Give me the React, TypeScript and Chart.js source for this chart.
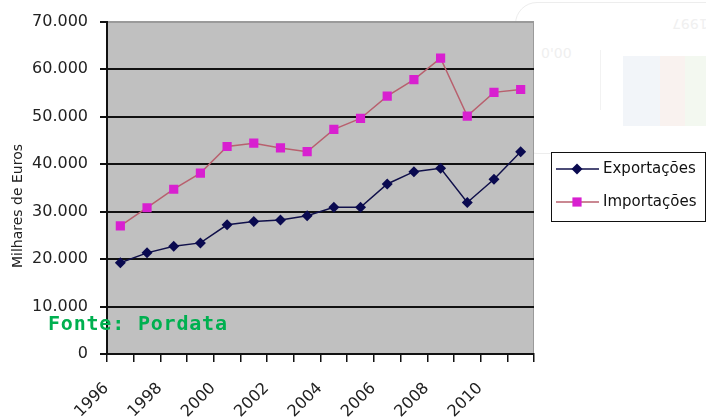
import React, { useEffect, useRef } from 'react';
import { Chart, registerables } from 'chart.js';

Chart.register(...registerables);

const years = ['1996', '1997', '1998', '1999', '2000', '2001', '2002', '2003', '2004', '2005', '2006', '2007', '2008', '2009', '2010', '2011'];
const exportacoes = [19200, 21300, 22700, 23400, 27200, 27900, 28200, 29100, 30900, 30900, 35800, 38400, 39100, 31900, 36800, 42600];
const importacoes = [27000, 30800, 34700, 38100, 43700, 44400, 43400, 42600, 47300, 49600, 54300, 57800, 62300, 50100, 55100, 55700];
const yTicks = [0, 10000, 20000, 30000, 40000, 50000, 60000, 70000];
const yTitle = 'Milhares de Euros';
const source = 'Fonte: Pordata';

const fmt = (v: number) => String(v).replace(/\B(?=(\d{3})+(?!\d))/g, '.');

const FONT = 'DejaVu Sans';

const plotBg = {
  id: 'plotBg',
  beforeDraw(chart: any) {
    const { ctx, chartArea: a } = chart;
    ctx.save();
    ctx.fillStyle = '#c0c0c0';
    ctx.fillRect(a.left, a.top, a.right - a.left, a.bottom - a.top);
    ctx.strokeStyle = '#9a9a9a';
    ctx.lineWidth = 1;
    ctx.beginPath();
    ctx.moveTo(a.left, a.top + 0.5);
    ctx.lineTo(a.right - 0.5, a.top + 0.5);
    ctx.lineTo(a.right - 0.5, a.bottom);
    ctx.stroke();
    ctx.restore();
  },
};

const drawMarker = (ctx: CanvasRenderingContext2D, style: string, x: number, y: number, r: number) => {
  ctx.beginPath();
  if (style === 'rectRot') {
    ctx.moveTo(x, y - r);
    ctx.lineTo(x + r, y);
    ctx.lineTo(x, y + r);
    ctx.lineTo(x - r, y);
    ctx.closePath();
  } else {
    const s = r * Math.SQRT1_2;
    ctx.rect(x - s, y - s, 2 * s, 2 * s);
  }
  ctx.fill();
};

const overlay = {
  id: 'overlay',
  afterDraw(chart: any) {
    const { ctx } = chart;
    ctx.save();
    ctx.translate(18, 206);
    ctx.rotate(-Math.PI / 2);
    ctx.font = `14px ${FONT}`;
    ctx.fillStyle = '#222';
    ctx.textAlign = 'center';
    ctx.textBaseline = 'middle';
    ctx.fillText(yTitle, 0, 0);
    ctx.restore();

    ctx.save();
    ctx.fillStyle = '#ffffff';
    ctx.fillRect(551, 152, 154, 69);
    ctx.strokeStyle = '#111';
    ctx.lineWidth = 1;
    ctx.strokeRect(551.5, 152.5, 154, 69);
    chart.data.datasets.forEach((ds: any, i: number) => {
      const y = 169 + i * 33;
      ctx.strokeStyle = ds.borderColor;
      ctx.lineWidth = 1.5;
      ctx.beginPath();
      ctx.moveTo(556, y);
      ctx.lineTo(599, y);
      ctx.stroke();
      ctx.fillStyle = ds.pointBackgroundColor;
      drawMarker(ctx, ds.pointStyle, 577, y, ds.pointRadius);
      ctx.fillStyle = '#111';
      ctx.font = `15px ${FONT}`;
      ctx.textAlign = 'left';
      ctx.textBaseline = 'middle';
      ctx.fillText(ds.label, 603, y);
    });
    ctx.restore();
  },
};

export default function App() {
  const ref = useRef<HTMLCanvasElement>(null);

  useEffect(() => {
    if (!ref.current) return;
    const chart = new Chart(ref.current, {
      type: 'line',
      data: {
        labels: years,
        datasets: [
          {
            label: 'Exportações',
            data: exportacoes,
            borderColor: '#10104a',
            borderWidth: 1.5,
            pointStyle: 'rectRot',
            pointRadius: 5.5,
            pointBackgroundColor: '#0a0a50',
            pointBorderColor: '#0a0a50',
            pointBorderWidth: 0,
            tension: 0,
          },
          {
            label: 'Importações',
            data: importacoes,
            borderColor: '#b8606e',
            borderWidth: 1.5,
            pointStyle: 'rect',
            pointRadius: 6.5,
            pointBackgroundColor: '#d820d0',
            pointBorderColor: '#d820d0',
            pointBorderWidth: 0,
            tension: 0,
          },
        ],
      },
      options: {
        animation: false,
        responsive: false,
        layout: { padding: { left: 0, right: 172, top: 20, bottom: 0 } },
        plugins: { legend: { display: false }, tooltip: { enabled: false } },
        scales: {
          x: {
            offset: true,
            grid: { offset: true, drawOnChartArea: false, tickLength: 8, color: '#111', lineWidth: 1.5 },
            border: { color: '#111', width: 2 },
            ticks: {
              autoSkip: false,
              maxRotation: 45,
              minRotation: 45,
              labelOffset: -14,
              padding: 17,
              color: '#222',
              font: { family: FONT, size: 16 },
              callback: (_v: any, i: number) => (i % 2 === 0 ? years[i] : ''),
            },
            afterFit: (s: any) => {
              s.height = 64;
            },
          },
          y: {
            min: 0,
            max: 70000,
            afterBuildTicks: (s: any) => {
              s.ticks = yTicks.map((v) => ({ value: v }));
            },
            grid: {
              color: (c: any) => (c.tick && c.tick.value === 70000 ? '#9a9a9a' : '#111'),
              lineWidth: 2,
              tickLength: 7,
              tickColor: '#111',
            },
            border: { color: '#111', width: 2 },
            ticks: {
              color: '#222',
              padding: 12,
              font: { family: FONT, size: 16 },
              callback: (v: any) => fmt(Number(v)),
            },
            afterFit: (s: any) => {
              s.width = 107;
            },
          },
        },
      },
      plugins: [plotBg, overlay],
    });
    return () => chart.destroy();
  }, []);

  return (
    <div style={{ position: 'absolute', left: 0, top: 0, width: 706, height: 418, background: '#fff', overflow: 'hidden' }}>
      <div style={{ position: 'absolute', left: 515, top: 2, width: 210, height: 150, border: '1px solid #ededed', borderRadius: 22 }} />
      <div style={{ position: 'absolute', left: 600, top: 50, width: 1, height: 60, background: '#f2f2f2' }} />
      <div style={{ position: 'absolute', left: 623, top: 56, width: 37, height: 70, background: '#f2f5f9' }} />
      <div style={{ position: 'absolute', left: 660, top: 56, width: 25, height: 70, background: '#f9f2ef' }} />
      <div style={{ position: 'absolute', left: 685, top: 56, width: 21, height: 70, background: '#f3f8f0' }} />
      <div style={{ position: 'absolute', left: 541, top: 45, fontFamily: FONT, fontWeight: 'normal', fontSize: 14, color: '#efefef' }}>0'00</div>
      <div style={{ position: 'absolute', left: 672, top: 16, fontFamily: FONT, fontWeight: 'normal', fontSize: 14, color: '#f0f0f0', transform: 'rotate(180deg)' }}>1997</div>
      <canvas ref={ref} width={706} height={418} style={{ position: 'absolute', left: 0, top: 0, width: 706, height: 418 }} />
      <div
        style={{
          position: 'absolute',
          left: 48,
          top: 313,
          fontFamily: 'DejaVu Sans Mono',
          fontWeight: 'bold',
          fontSize: 20,
          lineHeight: '20px',
          letterSpacing: '0.8px',
          color: '#00b050',
          whiteSpace: 'nowrap',
        }}
      >
        {source}
      </div>
    </div>
  );
}
